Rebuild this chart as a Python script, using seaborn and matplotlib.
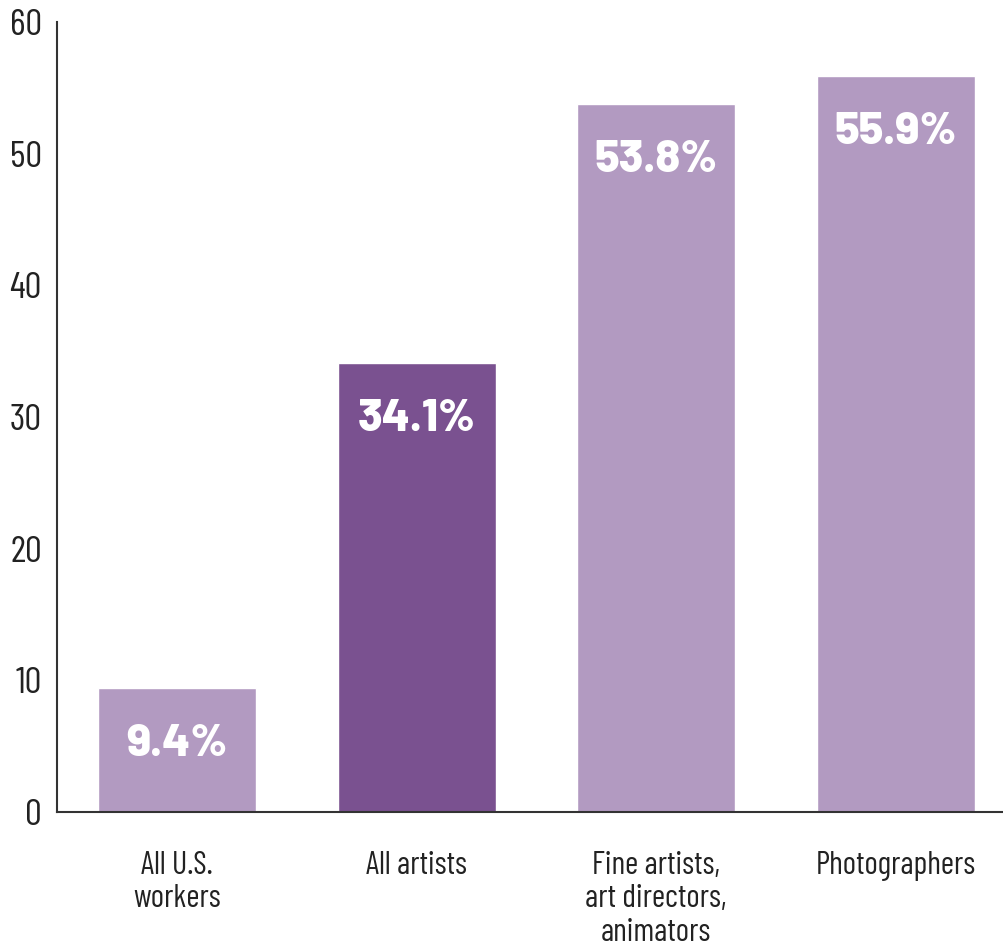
import pandas as pd
import seaborn as sns
import matplotlib.pyplot as plt

# 数据
categories = ['All U.S.\nworkers', 'All artists', 'Fine artists,\nart directors,\nanimators', 'Photographers']
values = [9.4, 34.1, 53.8, 55.9]
labels = ['9.4%', '34.1%', '53.8%', '55.9%']
colors = ['#b29ac1', '#7a5190', '#b29ac1', '#b29ac1']

df = pd.DataFrame({'cat': categories, 'val': values})

sns.set_style('white')
plt.rcParams['font.family'] = ['Barlow Condensed', 'DejaVu Sans']

fig = plt.figure(figsize=(10.04, 9.47), dpi=100)
ax = fig.add_axes([0.057, 0.1426, 0.945, 0.834])

sns.barplot(data=df, x='cat', y='val', hue='cat', palette=colors, legend=False,
            width=0.66, saturation=1, ax=ax)

# 柱内标签
for i, (v, lab) in enumerate(zip(values, labels)):
    ax.annotate(lab, (i, v), xytext=(0, -40.5), textcoords='offset points',
                ha='center', va='center', color='white', fontsize=32.5,
                family=['Barlow', 'DejaVu Sans'], fontweight=800)

ax.set_ylim(0, 60)
ax.set_xlim(-0.5, 3.46)
ax.set_yticks(range(0, 61, 10))
ax.set_xlabel('')
ax.set_ylabel('')
ax.tick_params(axis='y', length=0, pad=11, labelsize=27, colors='#222222')
ax.tick_params(axis='x', length=0, pad=28, labelsize=23, colors='#222222')
for lab in ax.get_xticklabels():
    lab.set_linespacing(1.15)
    lab.set_va('top')

sns.despine(ax=ax)
for s in ['left', 'bottom']:
    ax.spines[s].set_color('#333333')
    ax.spines[s].set_linewidth(1.5)

plt.savefig('out.png', dpi=100)
